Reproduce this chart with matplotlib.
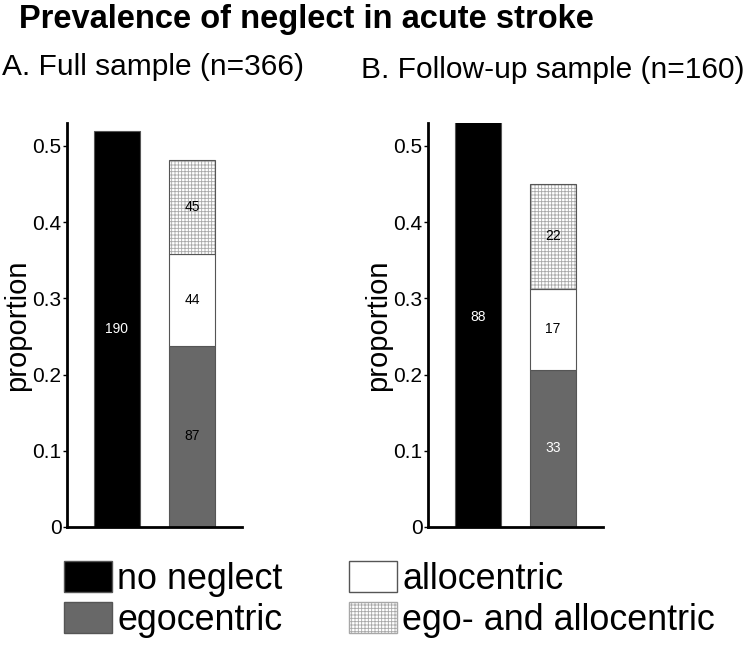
import matplotlib
matplotlib.use("Agg")
from matplotlib import pyplot as plt
from matplotlib.patches import Patch

plt.rcParams['font.family'] = ['Liberation Sans', 'DejaVu Sans']
plt.rcParams['hatch.linewidth'] = 0.6

# counts per group
categories = ['no neglect', 'egocentric', 'allocentric', 'ego- and allocentric']
full_n = 366
full_counts = [190, 87, 44, 45]
follow_n = 160
follow_counts = [88, 33, 17, 22]
panel_titles = ['A. Full sample (n=366)', 'B. Follow-up sample (n=160)']
# label colour on each segment, as in the original
full_text_colors = ['white', 'black', 'black', 'black']
follow_text_colors = ['white', 'white', 'black', 'black']

ego_color = '#686868'
edge_color = '#555555'
hatch_color = '#a8a8a8'
hatch = '+++++'

fig = plt.figure(figsize=(7.5, 6.47), dpi=100)

def draw_panel(ax, counts, n, text_colors):
    props = [c / n for c in counts]
    # no neglect bar
    ax.bar(1, props[0], width=0.61, color='black', edgecolor=edge_color, linewidth=0.8)
    ax.text(1, props[0] / 2, str(counts[0]), color=text_colors[0],
            ha='center', va='center', fontsize=10)
    # stacked neglect bar
    bottom = 0
    for i in range(1, 4):
        if i == 1:
            ax.bar(2, props[i], bottom=bottom, width=0.61, color=ego_color,
                   edgecolor=edge_color, linewidth=0.8)
        elif i == 2:
            ax.bar(2, props[i], bottom=bottom, width=0.61, color='white',
                   edgecolor=edge_color, linewidth=0.8)
        else:
            ax.bar(2, props[i], bottom=bottom, width=0.61, color='white',
                   edgecolor=hatch_color, hatch=hatch, linewidth=0)
            ax.bar(2, props[i], bottom=bottom, width=0.61, fill=False,
                   edgecolor=edge_color, linewidth=0.8)
        ax.text(2, bottom + props[i] / 2, str(counts[i]), color=text_colors[i],
                ha='center', va='center', fontsize=10)
        bottom += props[i]

    ax.set_xlim(0.333, 2.667)
    ax.set_ylim(0, 0.53)
    ax.set_yticks([0, 0.1, 0.2, 0.3, 0.4, 0.5])
    ax.set_yticklabels(['0', '0.1', '0.2', '0.3', '0.4', '0.5'])
    ax.set_xticks([])
    ax.spines['top'].set_visible(False)
    ax.spines['right'].set_visible(False)
    ax.spines['left'].set_linewidth(2)
    ax.spines['bottom'].set_linewidth(2)
    ax.tick_params(axis='y', direction='out', length=3, width=1, labelsize=15, pad=1)
    ax.set_ylabel('proportion', fontsize=21, labelpad=1)

ax1 = fig.add_axes([0.0893, 0.1855, 0.2333, 0.6244])
draw_panel(ax1, full_counts, full_n, full_text_colors)
ax2 = fig.add_axes([0.5707, 0.1855, 0.2333, 0.6244])
draw_panel(ax2, follow_counts, follow_n, follow_text_colors)

fig.text(0.025, 0.957, 'Prevalence of neglect in acute stroke', fontsize=23.5,
         fontweight='bold', ha='left', va='baseline')
fig.text(0.002, 0.884, panel_titles[0], fontsize=21.5, ha='left', va='baseline')
fig.text(0.481, 0.879, panel_titles[1], fontsize=21.5, ha='left', va='baseline')

# legend
handles = [
    Patch(facecolor='black', edgecolor=edge_color, label=categories[0]),
    Patch(facecolor=ego_color, edgecolor=edge_color, label=categories[1]),
    Patch(facecolor='white', edgecolor=edge_color, label=categories[2]),
    Patch(facecolor='white', edgecolor=hatch_color, hatch=hatch, label=categories[3]),
]
fig.legend(handles=handles, loc='upper left', bbox_to_anchor=(0.0853, 0.133), ncol=2,
           frameon=False, fontsize=25.8, handlelength=1.34, handleheight=0.95,
           handletextpad=0.15, columnspacing=1.85, labelspacing=0.15, borderpad=0,
           borderaxespad=0)

fig.savefig('out.png', dpi=100)
